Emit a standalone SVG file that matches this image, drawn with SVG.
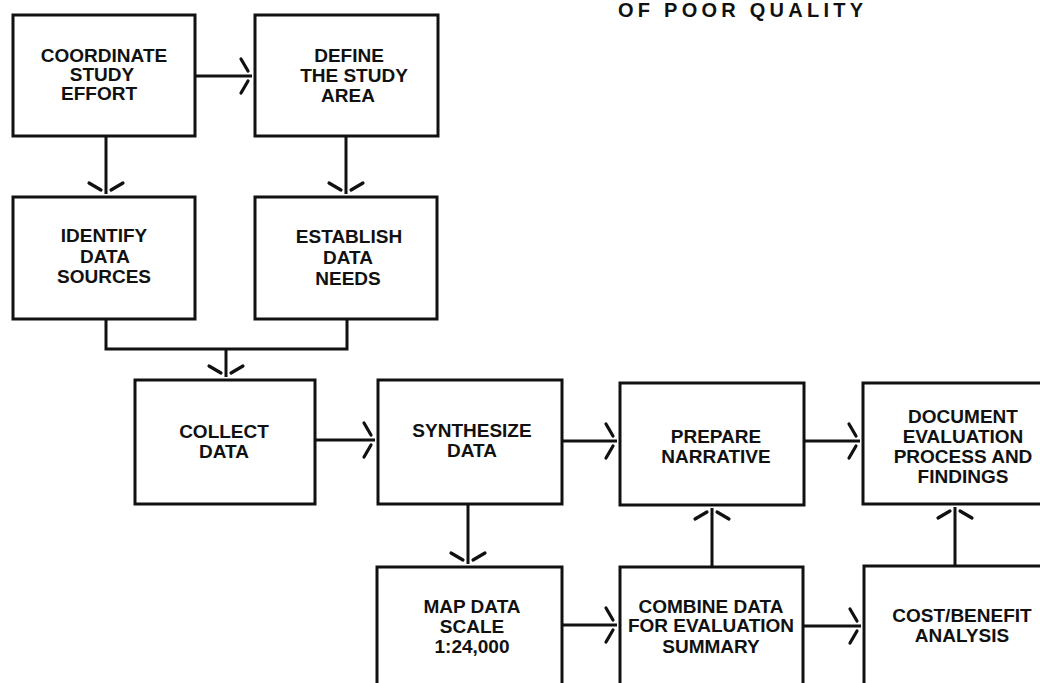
<svg xmlns="http://www.w3.org/2000/svg" width="1040" height="683" viewBox="0 0 1040 683">
<style>
.box{fill:#fff;stroke:#111;stroke-width:3}
.lbl{font-family:"Liberation Sans",Arial,sans-serif;font-weight:bold;font-size:19px;fill:#111;text-anchor:middle}
.hdr{font-family:"Liberation Sans",Arial,sans-serif;font-weight:bold;font-size:20px;fill:#111}
.con{fill:none;stroke:#111;stroke-width:3}
</style>
<defs>
<marker id="ah" markerUnits="userSpaceOnUse" orient="auto" refX="0" refY="0" markerWidth="30" markerHeight="40" overflow="visible">
<path d="M-4,-5 L-11,-17 M-4,5 L-11,17" fill="none" stroke="#111" stroke-width="3.2" stroke-linecap="round"/>
</marker>
</defs>
<rect width="1040" height="683" fill="#fff"/>
<text class="hdr" x="618" y="17" textLength="245" lengthAdjust="spacing">OF POOR QUALITY</text>

<g id="connectors">
<path class="con" d="M195,76 H252" marker-end="url(#ah)"/>
<path class="con" d="M106,136 V194" marker-end="url(#ah)"/>
<path class="con" d="M346,136 V194" marker-end="url(#ah)"/>
<path class="con" d="M106,319 V349 H347 V319"/>
<path class="con" d="M226,349 V377" marker-end="url(#ah)"/>
<path class="con" d="M315,440 H375" marker-end="url(#ah)"/>
<path class="con" d="M562,441 H617" marker-end="url(#ah)"/>
<path class="con" d="M804,441 H860" marker-end="url(#ah)"/>
<path class="con" d="M468,504 V564" marker-end="url(#ah)"/>
<path class="con" d="M562,625 H617" marker-end="url(#ah)"/>
<path class="con" d="M712,567 V508" marker-end="url(#ah)"/>
<path class="con" d="M803,626 H861" marker-end="url(#ah)"/>
<path class="con" d="M955,566 V507" marker-end="url(#ah)"/>
</g>

<g id="coordinate">
<rect class="box" x="13" y="15" width="182" height="121"/>
<text class="lbl" x="104" y="62">COORDINATE</text>
<text class="lbl" x="102" y="81">STUDY</text>
<text class="lbl" x="99" y="100">EFFORT</text>
</g>
<g id="define">
<rect class="box" x="255" y="15" width="183" height="121"/>
<text class="lbl" x="349" y="62">DEFINE</text>
<text class="lbl" x="354" y="82">THE STUDY</text>
<text class="lbl" x="348" y="102">AREA</text>
</g>
<g id="identify">
<rect class="box" x="13" y="197" width="182" height="122"/>
<text class="lbl" x="104" y="242">IDENTIFY</text>
<text class="lbl" x="105" y="263">DATA</text>
<text class="lbl" x="104" y="283">SOURCES</text>
</g>
<g id="establish">
<rect class="box" x="255" y="197" width="182" height="122"/>
<text class="lbl" x="349" y="243">ESTABLISH</text>
<text class="lbl" x="348" y="264">DATA</text>
<text class="lbl" x="348" y="285">NEEDS</text>
</g>
<g id="collect">
<rect class="box" x="135" y="380" width="180" height="124"/>
<text class="lbl" x="224" y="438">COLLECT</text>
<text class="lbl" x="224" y="458">DATA</text>
</g>
<g id="synthesize">
<rect class="box" x="378" y="380" width="184" height="124"/>
<text class="lbl" x="472" y="437">SYNTHESIZE</text>
<text class="lbl" x="472" y="457">DATA</text>
</g>
<g id="prepare">
<rect class="box" x="620" y="383" width="184" height="122"/>
<text class="lbl" x="716" y="443">PREPARE</text>
<text class="lbl" x="716" y="463">NARRATIVE</text>
</g>
<g id="document">
<rect class="box" x="863" y="383" width="185" height="121"/>
<text class="lbl" x="963" y="423">DOCUMENT</text>
<text class="lbl" x="963" y="443">EVALUATION</text>
<text class="lbl" x="963" y="463">PROCESS AND</text>
<text class="lbl" x="963" y="483">FINDINGS</text>
</g>
<g id="map">
<rect class="box" x="377" y="567" width="185" height="130"/>
<text class="lbl" x="472" y="613">MAP DATA</text>
<text class="lbl" x="472" y="633">SCALE</text>
<text class="lbl" x="472" y="653">1:24,000</text>
</g>
<g id="combine">
<rect class="box" x="620" y="567" width="183" height="130"/>
<text class="lbl" x="711" y="613">COMBINE DATA</text>
<text class="lbl" x="711" y="632">FOR EVALUATION</text>
<text class="lbl" x="711" y="653">SUMMARY</text>
</g>
<g id="cost">
<rect class="box" x="864" y="566" width="185" height="130"/>
<text class="lbl" x="962" y="622">COST/BENEFIT</text>
<text class="lbl" x="962" y="642">ANALYSIS</text>
</g>
</svg>
